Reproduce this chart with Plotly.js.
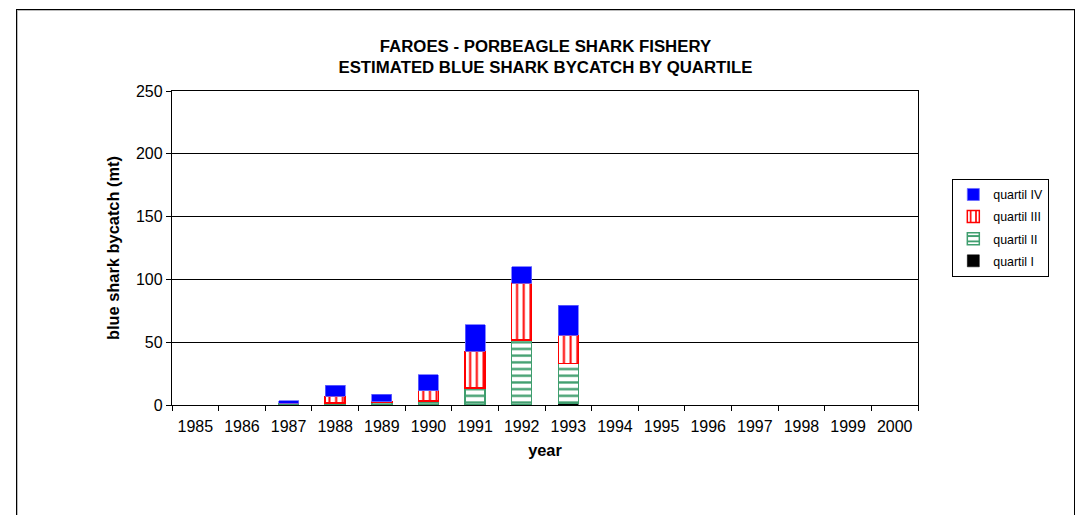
<!DOCTYPE html>
<html><head><meta charset="utf-8">
<script src="https://cdn.plot.ly/plotly-3.0.1.min.js"></script>
<style>
html,body{margin:0;padding:0;background:#fff;}
#wrap{position:relative;width:1078px;height:515px;overflow:hidden;}
#chart{width:1078px;height:515px;}
#frame{position:absolute;left:16px;top:9px;width:1059px;height:520px;border:1.5px solid #000;box-sizing:border-box;pointer-events:none;box-shadow:1px 1px 0 #bbb inset;}
</style></head>
<body><div id="wrap"><div id="chart"></div><div id="frame"></div></div>
<script>
const years = ['1985','1986','1987','1988','1989','1990','1991','1992','1993','1994','1995','1996','1997','1998','1999','2000'];
const quartilI   = [null,null,null,null,null,null,null,null,1.6,null,null,null,null,null,null,null];
const quartilII  = [null,null,1.3,1.6,2.0,3.0,13.5,51.8,31.5,null,null,null,null,null,null,null];
const quartilIII = [null,null,0,5.2,0.5,8.5,29.2,45.3,22.3,null,null,null,null,null,null,null];
const quartilIV  = [null,null,2.2,9.1,6.0,12.7,21.2,13.0,24.2,null,null,null,null,null,null,null];
const seriesNames = ['quartil I','quartil II','quartil III','quartil IV'];
const yTicks = [0,50,100,150,200,250];

const green = '#3f9e6e';
const traces = [
  {type:'bar', name:seriesNames[0], x:years, y:quartilI, legendgroup:'a', legendrank:4,
   marker:{color:'#000000', line:{color:'#000', width:0.5}}},
  {type:'bar', name:seriesNames[1], x:years, y:quartilII, legendgroup:'b', legendrank:3,
   marker:{color:'#ffffff', line:{color:green, width:1.5},
     pattern:{shape:'-', fgcolor:green, bgcolor:'#ffffff', size:6.7, solidity:0.35, fillmode:'replace'}}},
  {type:'bar', name:seriesNames[2], x:years, y:quartilIII, legendgroup:'c', legendrank:2,
   marker:{color:'#ffffff', line:{color:'#ff0000', width:1.5},
     pattern:{shape:'|', fgcolor:'#ff0000', bgcolor:'#ffffff', size:6.7, solidity:0.3, fillmode:'replace'}}},
  {type:'bar', name:seriesNames[3], x:years, y:quartilIV, legendgroup:'d', legendrank:1,
   marker:{color:'#0000ff', line:{color:'#6a6aff', width:0.8}}}
];

const layout = {
  width:1078, height:515,
  margin:{l:172, r:160, t:91, b:110},
  paper_bgcolor:'rgba(0,0,0,0)', plot_bgcolor:'#ffffff',
  barmode:'stack', bargap:0.57,
  font:{family:'"Liberation Sans", Arial, sans-serif', size:16, color:'#000'},
  title:{text:'<b>FAROES - PORBEAGLE SHARK FISHERY<br>ESTIMATED BLUE SHARK BYCATCH BY QUARTILE</b>',
    font:{size:16.8, color:'#000'}, x:0.506, xanchor:'center', y:0.9, yanchor:'middle'},
  xaxis:{type:'category', categoryorder:'array', categoryarray:years,
    title:{text:'<b>year</b>', font:{size:16.4}, standoff:10},
    showline:true, linecolor:'#000', linewidth:1.2, mirror:true,
    ticks:'outside', tickson:'boundaries', ticklen:5, tickcolor:'#000', ticklabelstandoff:7,
    showgrid:false, tickfont:{size:16}},
  yaxis:{range:[0,250], tickvals:yTicks, ticktext:yTicks.map(String),
    title:{text:'<b>blue shark bycatch (mt)</b>', font:{size:16.4}, standoff:12},
    showline:true, linecolor:'#000', linewidth:1.2, mirror:true,
    ticks:'outside', ticklen:5, tickcolor:'#000',
    showgrid:true, gridcolor:'#000', gridwidth:1, zeroline:false, tickfont:{size:16}},
  showlegend:true,
  legend:{x:1.046, xanchor:'left', y:0.72, yanchor:'top', traceorder:'grouped', tracegroupgap:3,
    bordercolor:'#000', borderwidth:1, bgcolor:'#ffffff', font:{size:12.4, color:'#000'}, itemwidth:30}
};
Plotly.newPlot('chart', traces, layout, {displayModeBar:false, staticPlot:true});
</script></body></html>
